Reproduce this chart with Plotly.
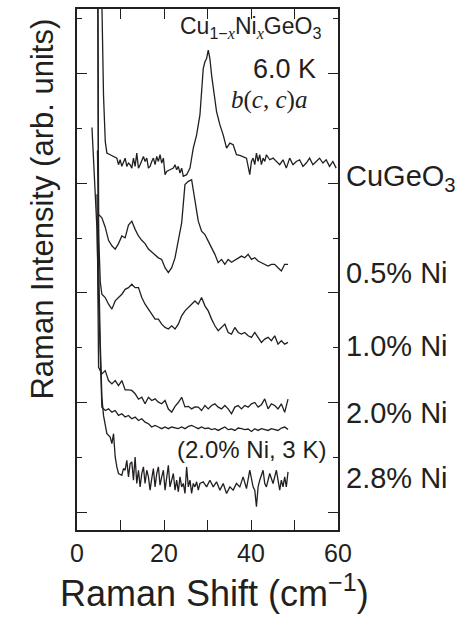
import plotly.graph_objects as go

# ---------------- data ----------------
GRID = [5.72, 6.49, 7.25, 8.02, 8.78, 9.54, 10.31, 11.07, 11.83, 12.60, 13.36, 14.13,
        14.89, 15.65, 16.42, 17.18, 17.95, 18.71, 19.47, 20.24, 21.00, 21.77, 22.53,
        23.29, 24.06, 24.82, 25.59, 26.35, 27.11, 27.88, 28.64, 29.41, 30.17, 30.94,
        31.70, 32.46, 33.23, 33.99, 34.75, 35.52, 36.28, 37.05, 37.81, 38.57, 39.34,
        40.10, 40.87, 41.63, 42.39, 43.16, 43.92, 44.69, 45.45, 46.21, 46.98, 47.74, 48.51]

cu_x = [5.65, 6.10, 6.50, 6.87, 7.63, 8.40, 9.16, 9.54, 9.92, 10.31, 10.69, 11.07, 11.45,
        11.83, 12.22, 12.60, 12.98, 13.36, 13.74, 14.13, 14.51, 15.27, 15.65, 16.04, 16.42,
        16.80, 17.18, 17.56, 17.95, 18.33, 18.71, 19.09, 19.47, 19.86, 20.24, 20.62, 21.38,
        22.15, 22.53, 22.91, 23.29, 23.68, 24.06, 24.44, 25.20, 25.97, 26.73, 27.50, 28.26,
        29.02, 29.41, 29.79, 30.17, 30.55, 30.94, 31.32, 31.70, 32.08, 32.85, 33.61, 34.38,
        35.14, 35.90, 36.66, 37.43, 38.19, 38.96, 39.72, 40.10, 40.48, 40.87, 41.25, 41.63,
        42.01, 42.39, 42.78, 43.16, 43.54, 44.30, 45.07, 45.83, 46.60, 47.36, 48.12, 48.89,
        49.65, 50.42, 51.18, 51.94, 52.71, 53.47, 54.23, 55.00, 55.76, 56.53, 57.29, 58.05,
        58.82, 59.58]
cu_y = [4.80, 3.80, 3.38, 3.276, 3.261, 3.245, 3.230, 3.170, 3.215, 3.155, 3.200, 3.230, 3.155,
        3.185, 3.170, 3.139, 3.230, 3.155, 3.276, 3.139, 3.170, 3.245, 3.200, 3.230, 3.139,
        3.155, 3.200, 3.230, 3.170, 3.245, 3.200, 3.261, 3.185, 3.230, 3.079, 3.109, 3.124,
        3.139, 3.170, 3.124, 3.155, 3.094, 3.139, 3.064, 3.079, 3.139, 3.321, 3.442, 3.624,
        4.048, 4.109, 4.139, 4.215, 4.139, 3.988, 3.867, 3.745, 3.655, 3.533, 3.442, 3.321,
        3.367, 3.352, 3.261, 3.255, 3.245, 3.230, 3.079, 3.200, 3.230, 3.170, 3.276, 3.200,
        3.261, 3.170, 3.230, 3.200, 3.261, 3.215, 3.230, 3.200, 3.170, 3.215, 3.139, 3.230,
        3.170, 3.200, 3.215, 3.155, 3.185, 3.230, 3.170, 3.200, 3.230, 3.185, 3.215, 3.155,
        3.200, 3.139]

ni05_x = [4.78, 4.88, 4.96] + GRID
ni05_y = [4.70, 3.40, 2.715,
          2.685, 2.600, 2.480, 2.430, 2.400, 2.450, 2.520, 2.503, 2.620, 2.655, 2.580, 2.520,
          2.480, 2.450, 2.400, 2.375, 2.345, 2.320, 2.306, 2.230, 2.185, 2.230, 2.320, 2.470,
          2.640, 2.988, 3.018, 3.033, 2.850, 2.655, 2.564, 2.533, 2.473, 2.412, 2.352, 2.276,
          2.306, 2.261, 2.306, 2.280, 2.300, 2.320, 2.336, 2.321, 2.352, 2.306, 2.321, 2.291,
          2.276, 2.261, 2.245, 2.260, 2.261, 2.230, 2.200, 2.261, 2.261]

ni10_x = [4.70, 5.00, 5.35] + GRID
ni10_y = [3.30, 2.50, 2.10,
          1.988, 1.958, 1.897, 1.852, 1.927, 1.958, 1.988, 2.033, 2.048, 2.079, 2.048, 2.048,
          1.958, 1.897, 1.852, 1.806, 1.761, 1.761, 1.715, 1.685, 1.670, 1.700, 1.670, 1.715,
          1.791, 1.836, 1.867, 1.897, 1.927, 1.897, 1.958, 1.882, 1.836, 1.761, 1.700, 1.655,
          1.685, 1.715, 1.639, 1.624, 1.685, 1.639, 1.624, 1.639, 1.609, 1.594, 1.639, 1.594,
          1.548, 1.579, 1.594, 1.564, 1.609, 1.533, 1.564, 1.533, 1.548]

ni20_x = [4.60, 4.80, 4.96] + GRID
ni20_y = [2.90, 2.00, 1.321,
          1.261, 1.291, 1.200, 1.170, 1.200, 1.155, 1.200, 1.115, 1.115, 1.110, 1.080, 1.030,
          1.048, 0.988, 1.048, 1.018, 1.033, 1.003, 0.988, 1.018, 0.940, 0.912, 0.965, 1.000,
          1.048, 0.960, 0.965, 0.942, 0.960, 0.958, 0.927, 0.973, 0.942, 0.973, 0.988, 0.958,
          0.942, 0.973, 0.942, 0.897, 0.958, 0.973, 0.942, 0.973, 0.958, 0.988, 1.000, 0.958,
          0.980, 1.033, 0.942, 0.988, 0.973, 0.942, 0.988, 0.910, 1.030]

ni20_3k_x = [3.44, 4.01, 4.58, 4.96, 5.34] + GRID
ni20_3k_y = [3.51, 3.05, 2.59, 1.93, 1.32,
             0.958, 0.927, 0.942, 0.912, 0.927, 0.882, 0.897, 0.867, 0.882, 0.852, 0.867, 0.836,
             0.852, 0.821, 0.806, 0.776, 0.791, 0.776, 0.761, 0.776, 0.761, 0.776, 0.770, 0.761,
             0.776, 0.761, 0.782, 0.791, 0.776, 0.761, 0.776, 0.761, 0.767, 0.752, 0.761, 0.745,
             0.761, 0.776, 0.752, 0.758, 0.745, 0.767, 0.761, 0.752, 0.758, 0.736, 0.761, 0.745,
             0.761, 0.755, 0.745, 0.761, 0.752, 0.745, 0.767, 0.776, 0.755]

ni28_x = [4.81, 4.96, 5.35, 5.72, 6.10, 6.49, 6.87, 7.63, 8.02, 8.40, 8.78, 9.16, 9.54,
          10.31, 10.69, 11.07, 11.45, 11.83, 12.22, 12.60, 12.98, 13.36, 13.74, 14.13, 14.51,
          14.89, 15.27, 15.65, 16.04, 16.42, 16.80, 17.18, 17.56, 17.95, 18.33, 18.71, 19.09,
          19.47, 19.86, 20.24, 20.62, 21.00, 21.38, 21.77, 22.15, 22.53, 22.91, 23.29, 23.68,
          24.06, 24.44, 24.82, 25.20, 25.59, 25.97, 26.35, 26.73, 27.11, 27.50, 27.88, 28.26,
          29.02, 29.79, 30.55, 31.32, 32.08, 32.85, 33.61, 34.38, 35.14, 35.90, 36.66, 37.43,
          38.19, 38.96, 39.72, 40.48, 40.87, 41.25, 41.63, 42.01, 42.78, 43.16, 43.54, 44.30,
          45.07, 45.83, 46.60, 46.98, 47.36, 47.74, 48.12, 48.51]
ni28_y = [4.80, 2.29, 1.55, 1.048, 0.880, 0.806, 0.715, 0.685, 0.624, 0.715, 0.503, 0.412,
          0.352, 0.336, 0.397, 0.382, 0.473, 0.321, 0.442, 0.458, 0.291, 0.503, 0.261, 0.382,
          0.230, 0.352, 0.412, 0.261, 0.382, 0.321, 0.200, 0.306, 0.397, 0.230, 0.352, 0.412,
          0.245, 0.321, 0.382, 0.200, 0.321, 0.427, 0.230, 0.291, 0.352, 0.200, 0.291, 0.185,
          0.321, 0.230, 0.261, 0.170, 0.412, 0.230, 0.291, 0.170, 0.261, 0.230, 0.276, 0.200,
          0.261, 0.276, 0.230, 0.291, 0.230, 0.276, 0.200, 0.261, 0.170, 0.230, 0.200, 0.261,
          0.230, 0.321, 0.215, 0.382, 0.230, 0.200, 0.048, 0.230, 0.291, 0.382, 0.261, 0.230,
          0.352, 0.261, 0.382, 0.200, 0.291, 0.230, 0.321, 0.230, 0.367]

series = [
    ("CuGeO3", cu_x, cu_y),
    ("0.5% Ni", ni05_x, ni05_y),
    ("1.0% Ni", ni10_x, ni10_y),
    ("2.0% Ni", ni20_x, ni20_y),
    ("2.0% Ni, 3 K", ni20_3k_x, ni20_3k_y),
    ("2.8% Ni", ni28_x, ni28_y),
]

x_ticks = [0, 10, 20, 30, 40, 50, 60]
x_ticktext = ["0", "", "20", "", "40", "", "60"]

# ---------------- figure ----------------
INK = "#231f20"
SANS = "Liberation Sans, Arial, sans-serif"
SERIF = "Liberation Serif, Times New Roman, serif"

fig = go.Figure()
for name, xs, ys in series:
    fig.add_trace(go.Scatter(x=xs, y=ys, mode="lines", name=name,
                             line=dict(color=INK, width=1.3), showlegend=False))

fig.update_layout(
    width=460, height=617,
    margin=dict(l=77, r=122, t=7, b=87, pad=0),
    paper_bgcolor="white", plot_bgcolor="white",
    font=dict(family=SANS, color=INK),
    xaxis=dict(range=[0, 60], tickvals=x_ticks, ticktext=x_ticktext,
               ticks="inside", ticklen=10, tickwidth=1.3, tickcolor=INK,
               showline=True, linecolor=INK, linewidth=1.5, mirror="ticks",
               showgrid=False, zeroline=False,
               tickfont=dict(size=25, family=SANS, color=INK)),
    yaxis=dict(range=[-0.1636, 4.591], tickvals=[0, 1, 2, 3, 4], showticklabels=False,
               ticks="inside", ticklen=10, tickwidth=1.3, tickcolor=INK,
               showline=True, linecolor=INK, linewidth=1.5, mirror="ticks",
               showgrid=False, zeroline=False,
               minor=dict(tickvals=[0.5, 1.5, 2.5, 3.5, 4.5], ticks="inside",
                          ticklen=5, tickwidth=1.3, tickcolor=INK, showgrid=False)),
)

ann = []
def add(text, x, y, size, xanchor="center", yanchor="middle", family=SANS, angle=0,
        ref="data"):
    xr, yr = ("x", "y") if ref == "data" else ("paper", "paper")
    ann.append(dict(text=text, x=x, y=y, xref=xr, yref=yr, showarrow=False,
                    xanchor=xanchor, yanchor=yanchor, textangle=angle,
                    font=dict(size=size, family=family, color=INK)))

ital = "<span style='font-family:Liberation Serif'><i>x</i></span>"
add("Cu<sub>1−" + ital + "</sub>Ni<sub>" + ital + "</sub>GeO<sub>3</sub>", 56.6, 4.42, 23, xanchor="right")
add("6.0 K", 55.3, 4.04, 27, xanchor="right")
add("<i>b</i>(<i>c</i>, <i>c</i>)<i>a</i>", 53.4, 3.76, 25, xanchor="right", family=SERIF)
add("(2.0% Ni, 3 K)", 40.0, 0.573, 24)

# labels outside the plot area (paper coordinates)
add("CuGeO<sub>3</sub>", 1.022, 0.676, 29, xanchor="left", ref="paper")
add("0.5% Ni", 1.022, 0.4933, 29, xanchor="left", ref="paper")
add("1.0% Ni", 1.022, 0.3537, 29, xanchor="left", ref="paper")
add("2.0% Ni", 1.022, 0.2237, 29, xanchor="left", ref="paper")
add("2.8% Ni", 1.022, 0.0994, 29, xanchor="left", ref="paper")

add("Raman Intensity (arb. units)", -0.1303, 0.617, 31, angle=-90, ref="paper")
add("Raman Shift (cm<sup>−1</sup>)", 0.525, -0.118, 36, ref="paper")

fig.update_layout(annotations=ann)
fig.write_html("out.html")
